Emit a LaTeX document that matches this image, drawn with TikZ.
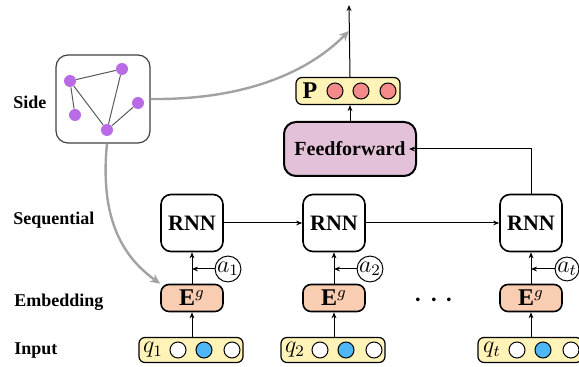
\documentclass[tikz,border=0pt]{standalone}
\usepackage{fontspec}
\setmainfont{Liberation Serif}
\usetikzlibrary{arrows.meta}
\definecolor{purp}{HTML}{B96BE6}
\definecolor{ylw}{HTML}{FFF3B8}
\definecolor{peach}{HTML}{F9CDB2}
\definecolor{lav}{HTML}{E3C2D9}
\definecolor{pinkred}{HTML}{F48A8A}
\definecolor{skyb}{HTML}{4DB8F5}
\definecolor{grayarr}{HTML}{A2A2A2}
\begin{document}
\begin{tikzpicture}[x=0.5pt,y=-0.5pt,
  arr/.style={-{Stealth[length=3pt,width=2.4pt]},line width=0.5pt},
  garr/.style={-{Stealth[length=5pt,width=4.5pt]},line width=1.2pt,grayarr},
  rnnbox/.style={draw,line width=0.8pt,rounded corners=5pt,minimum width=31pt,minimum height=28.5pt,font=\fontsize{11}{13}\selectfont\bfseries,inner sep=0pt},
  ebox/.style={draw,line width=0.8pt,rounded corners=4pt,fill=peach,minimum width=31pt,minimum height=13.5pt,inner sep=0pt,font=\fontsize{12}{14}\selectfont},
  strip/.style={draw,line width=0.6pt,rounded corners=3pt,fill=ylw,minimum width=52pt,minimum height=12.5pt,inner sep=0pt},
  dot/.style={circle,draw,line width=0.5pt,minimum size=8pt,inner sep=0pt},
  acirc/.style={circle,draw,line width=0.5pt,minimum size=11.5pt,inner sep=0pt,font=\fontsize{11.5}{13}\selectfont},
  gnode/.style={circle,fill=purp,minimum size=6pt,inner sep=0pt},
  rowlab/.style={anchor=west,font=\fontsize{9}{11}\selectfont\bfseries,inner sep=0pt},
  mlab/.style={inner sep=0pt,font=\fontsize{12}{14}\selectfont}]
\useasboundingbox (0,0) rectangle (579,367);
\clip (0,0) rectangle (579,367);

% row labels
\node[rowlab] (lside) at (13,102) {Side};
\node[rowlab] (lseq) at (13,220) {Sequential};
\node[rowlab] (lemb) at (14,302) {Embedding};
\node[rowlab] (linp) at (14,351) {Input};

% side graph
\node[draw,line width=0.6pt,draw=black!75,rounded corners=6pt,minimum width=47pt,minimum height=44pt,inner sep=0pt] (side) at (103,99) {};
\node[gnode] (g1) at (70,81) {};
\node[gnode] (g2) at (122,69) {};
\node[gnode] (g3) at (75,115) {};
\node[gnode] (g4) at (138,103) {};
\node[gnode] (g5) at (107,130) {};
\begin{scope}[draw=black!65,line width=0.5pt]
\draw (g1) -- (g2);
\draw (g1) -- (g3);
\draw (g1) -- (g5);
\draw (g2) -- (g5);
\draw (g4) -- (g5);
\end{scope}

% top part
\node[draw,line width=1pt,rounded corners=6pt,fill=lav,minimum width=66pt,minimum height=27pt,inner sep=0pt,font=\fontsize{10}{12}\selectfont\bfseries] (ff) at (350,149) {Feedforward};
\node[strip,minimum height=13.5pt] (pbox) at (348,91) {};
\node[mlab] (plab) at (310,91) {$\mathbf{P}$};
\node[dot,fill=pinkred] (p1) at (335,91) {};
\node[dot,fill=pinkred] (p2) at (361,91) {};
\node[dot,fill=pinkred] (p3) at (388,91) {};
\coordinate (top) at (349,5);
\draw[arr] (pbox.north -| ff.north) -- (top);
\draw[arr] (ff.north) -- (ff.north |- pbox.south);

% columns
\foreach \i/\cx/\sub in {1/192/1,2/334/2,3/531/t}{
  \node[rnnbox] (rnn\i) at (\cx,223) {RNN};
  \node[ebox] (e\i) at (\cx,298) {$\mathbf{E}^g$};
  \node[strip] (in\i) at (\cx-1,350) {};
  \node[mlab] (q\i) at (\cx-39,350) {$q_{\sub}$};
  \node[dot,fill=white] (c\i a) at (\cx-14,350) {};
  \node[dot,fill=skyb] (c\i b) at (\cx+12,350) {};
  \node[dot,fill=white] (c\i c) at (\cx+40,350) {};
  \node[acirc] (a\i) at (\cx+36,269) {$a_{\sub}$};
  \draw[arr] (in\i.north -| e\i.north) -- (e\i.south);
  \draw[arr] (e\i.north) -- (rnn\i.south);
  \draw[arr] (a\i.west) -- (a\i.west -| e\i.north);
}
\node[inner sep=0pt,font=\fontsize{16}{18}\selectfont] (dots) at (434,301) {$\cdots$};

\draw[arr] (rnn1.east) -- (rnn2.west);
\draw[arr] (rnn2.east) -- (rnn3.west);
\draw[arr] (rnn3.north) -- (rnn3.north |- ff.east) -- ([xshift=-4pt]ff.east);

% gray arrows
\coordinate (gtip1) at (349,31);
\draw[garr] (side.east) .. controls (230,100) and (300,80) .. (gtip1);
\draw[garr] (side.south -| g5) .. controls (100,215) and (120,255) .. (e1.north west);
\end{tikzpicture}
\end{document}
